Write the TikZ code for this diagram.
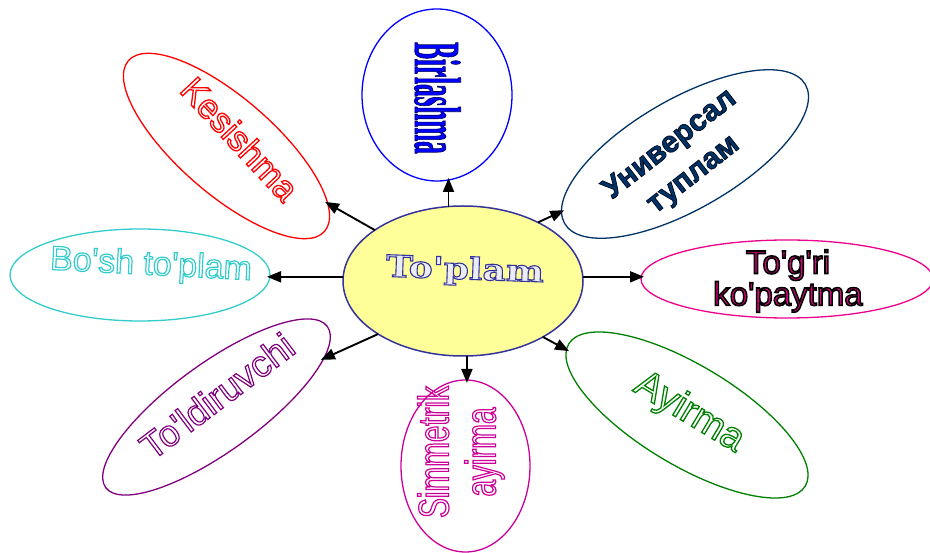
\documentclass[tikz,border=0pt]{standalone}
\usepackage{fontspec}
\usetikzlibrary{arrows.meta,shapes.geometric}
\setmainfont{Liberation Sans}[Ligatures=TeXOff]
\newfontfamily\wordsans{Liberation Sans}[Ligatures=TeXOff]
\newfontfamily\narrowsans{Liberation Sans}[Ligatures=TeXOff,FakeStretch=0.69]
\newfontfamily\narrowserif{Liberation Serif}[Ligatures=TeXOff,FakeStretch=0.38]
\newfontfamily\wideserif{DejaVu Serif}[Ligatures=TeXOff,FakeStretch=1.2]

% outlined lettering: stroke only (colour of the text), or filled with a coloured rim
\newcommand\hollowtext[2]{\special{pdf:literal direct 1 Tr #1 w}#2\special{pdf:literal direct 0 Tr}}
\newcommand\rimtext[3]{\special{pdf:literal direct 2 Tr #1 w #2 RG}#3\special{pdf:literal direct 0 Tr}}

\definecolor{coreFill}{HTML}{FFFF99}
\definecolor{coreRim}{HTML}{333399}
\definecolor{coreText}{HTML}{ECECF8}
\definecolor{uniBlue}{HTML}{003366}
\definecolor{bosCyan}{HTML}{33CCCC}
\definecolor{tolPurple}{HTML}{800080}
\definecolor{simMagenta}{HTML}{CC0099}
\definecolor{ayiGreen}{HTML}{008000}

\begin{document}
\begin{tikzpicture}[x=1pt,y=-1pt,
  bubble/.style={ellipse, draw, line width=1.3pt, inner sep=0pt, outer sep=0pt, fill=white},
  label/.style={inner sep=0pt, outer sep=0pt},
  arr/.style={draw=black, line width=1.9pt, -{Triangle[length=14pt,width=11pt]}, shorten >=-3pt}]
\useasboundingbox (0,0) rectangle (930,553);

% ellipses
\node[bubble, fill=coreFill, draw=coreRim, line width=1.5pt, minimum width=240, minimum height=150] (c) at (463,281) {};
\node[bubble, draw=blue, minimum width=150, minimum height=172] (bir) at (437,95) {};
\node[bubble, draw=red, minimum width=260, minimum height=96, rotate=-41] (kes) at (226.5,146) {};
\node[bubble, draw=uniBlue, minimum width=278, minimum height=110, rotate=30] (uni) at (685,154) {};
\node[bubble, draw=magenta, minimum width=292, minimum height=78] (tog) at (787,279) {};
\node[bubble, draw=bosCyan, minimum width=260, minimum height=92] (bosh) at (140,275) {};
\node[bubble, draw=tolPurple, minimum width=274, minimum height=88, rotate=36] (tol) at (216.5,407) {};
\node[bubble, draw=simMagenta, minimum width=129, minimum height=172] (sim) at (465.5,466) {};
\node[bubble, draw=ayiGreen, minimum width=276, minimum height=100, rotate=-31] (ayi) at (687,415) {};

% lettering
\node[label, rotate=-2, text=coreText, font=\wideserif\bfseries\fontsize{30}{32}\selectfont] (c-t) at (465,271) {\rimtext{1.1}{0.2 0.2 0.6}{To'plam}};
\node[label, rotate=-90, text=blue, font=\narrowserif\bfseries\fontsize{66}{70}\selectfont] (bir-t) at (437.5,98) {\rimtext{0.6}{0 0 0.35}{Birlashma}};
\node[label, rotate=-47, text=red, font=\wordsans\fontsize{35}{38}\selectfont] (kes-t) at (240,139) {\hollowtext{1.3}{Kesishma}};
\node[label, rotate=38, align=center, text=uniBlue, font=\wordsans\bfseries\fontsize{30}{38}\selectfont] (uni-t) at (682,160) {\rimtext{0.8}{0 0.05 0.15}{Универсал\\туплам}};
\node[label, align=center, text=magenta, font=\wordsans\fontsize{33}{29}\selectfont] (tog-t) at (788,281) {\rimtext{1.6}{0 0 0}{To'g'ri\\ko'paytma}};
\node[label, rotate=-3, text=bosCyan, font=\wordsans\fontsize{34}{36}\selectfont] (bosh-t) at (151,266) {\hollowtext{1.2}{Bo'sh to'plam}};
\node[label, rotate=37, text=tolPurple, font=\wordsans\fontsize{37}{38}\selectfont] (tol-t) at (217,396) {\hollowtext{1.2}{To'ldiruvchi}};
\node[label, rotate=90, align=center, text=simMagenta, font=\narrowsans\fontsize{43}{47}\selectfont] (sim-t) at (461,452) {\hollowtext{1.2}{Simmetrik\\ayirma}};
\node[label, rotate=-31, text=ayiGreen, font=\wordsans\fontsize{39}{40}\selectfont] (ayi-t) at (689,413) {\hollowtext{1.3}{Ayirma}};

% connectors
\draw[arr] (c.150) -- (kes);
\draw[arr] (c.101) -- (c.101 |- bir.south);
\draw[arr] (c.38) -- (uni);
\draw[arr] (c.2) -- (c.2 -| tog.west);
\draw[arr] (c.-35) -- (ayi);
\draw[arr] (c.-87) -- (c.-87 |- sim.north);
\draw[arr] (c.212) -- (tol);
\draw[arr] (c.178) -- (c.178 -| bosh.east);
\end{tikzpicture}
\end{document}
